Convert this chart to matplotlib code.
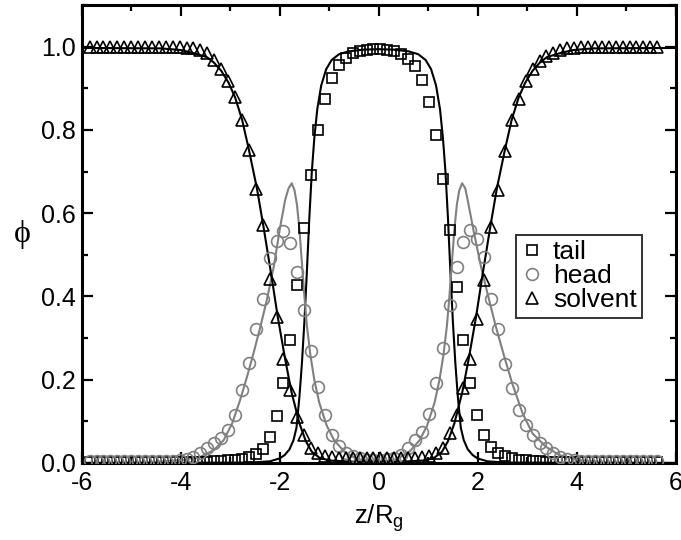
import matplotlib
matplotlib.use('Agg')
import matplotlib.pyplot as plt
import numpy as np
from matplotlib.ticker import MultipleLocator

plt.rcParams['font.family'] = ['Liberation Sans', 'DejaVu Sans']
plt.rcParams['mathtext.fontset'] = 'custom'
plt.rcParams['mathtext.rm'] = 'Liberation Sans'
plt.rcParams['mathtext.it'] = 'Liberation Sans'

#==============================================================================#
# simulation profiles (markers), sampled on the box grid
z_pts = np.linspace(-5.84, 5.63, 83)

tail_pts = [0.003, 0.003, 0.003, 0.003, 0.003, 0.003, 0.003, 0.003, 0.003, 0.003,
            0.003, 0.003, 0.003, 0.003, 0.003, 0.003, 0.003, 0.003,
            0.004, 0.005, 0.006, 0.008, 0.010, 0.014, 0.021, 0.033, 0.063, 0.113,
            0.191, 0.295, 0.427, 0.565, 0.693, 0.799, 0.875, 0.925, 0.957, 0.974,
            0.984, 0.990, 0.993, 0.995, 0.995, 0.993, 0.990, 0.982, 0.970, 0.954,
            0.920, 0.866, 0.787, 0.683, 0.559, 0.423, 0.295, 0.191, 0.115, 0.067,
            0.039, 0.025, 0.016, 0.011, 0.008, 0.006, 0.005, 0.004,
            0.003, 0.003, 0.003, 0.003, 0.003, 0.003, 0.003, 0.003, 0.003, 0.003,
            0.003, 0.003, 0.003, 0.003, 0.003, 0.003, 0.003]

head_pts = [0.004, 0.004, 0.004, 0.004, 0.004, 0.004, 0.004, 0.004, 0.004, 0.004,
            0.004, 0.004,
            0.005, 0.007, 0.010, 0.015, 0.023, 0.035, 0.047, 0.059, 0.079, 0.115,
            0.175, 0.241, 0.323, 0.395, 0.493, 0.533, 0.557, 0.528, 0.459, 0.367,
            0.269, 0.182, 0.115, 0.067, 0.041, 0.025, 0.016, 0.011, 0.008, 0.007,
            0.007, 0.009, 0.012, 0.020, 0.035, 0.055, 0.075, 0.118, 0.191, 0.277,
            0.379, 0.471, 0.531, 0.559, 0.539, 0.495, 0.395, 0.323, 0.239, 0.179,
            0.127, 0.091, 0.067, 0.047, 0.035, 0.023, 0.015, 0.010, 0.007, 0.005,
            0.004, 0.004, 0.004, 0.004, 0.004, 0.004, 0.004, 0.004, 0.004, 0.004,
            0.004]

solvent_pts = [1.0, 1.0, 1.0, 1.0, 1.0, 1.0, 1.0, 1.0, 1.0, 1.0, 1.0, 1.0, 1.0, 1.0,
               0.998, 0.996, 0.993, 0.986, 0.968, 0.946, 0.918, 0.878, 0.823, 0.751,
               0.659, 0.571, 0.443, 0.351, 0.251, 0.175, 0.111, 0.067, 0.035, 0.024,
               0.018, 0.015, 0.013, 0.012, 0.012, 0.012, 0.012, 0.012, 0.012, 0.012,
               0.012, 0.012, 0.012, 0.013, 0.015, 0.018, 0.024, 0.037, 0.071, 0.115,
               0.179, 0.251, 0.347, 0.439, 0.567, 0.655, 0.749, 0.823, 0.875, 0.918,
               0.946, 0.965, 0.978, 0.986, 0.993, 0.996, 0.998,
               1.0, 1.0, 1.0, 1.0, 1.0, 1.0, 1.0, 1.0, 1.0, 1.0, 1.0, 1.0]

# theory curves (lines)
tail_line_z = [-6.0, -2.6, -2.2, -2.0, -1.9, -1.8, -1.72, -1.66, -1.6, -1.55, -1.5,
               -1.45, -1.4, -1.35, -1.3, -1.24, -1.16, -1.06, -0.95, -0.8, -0.6, -0.3,
               0.0, 0.3, 0.6, 0.8, 0.95, 1.06, 1.16, 1.24, 1.3, 1.35, 1.4, 1.45, 1.5,
               1.55, 1.6, 1.66, 1.72, 1.8, 1.9, 2.0, 2.2, 2.6, 6.0]
tail_line = [0.0, 0.001, 0.004, 0.011, 0.019, 0.033, 0.055, 0.085, 0.16, 0.24, 0.34,
             0.46, 0.59, 0.70, 0.78, 0.85, 0.907, 0.946, 0.968, 0.982, 0.989, 0.993,
             0.994, 0.993, 0.989, 0.982, 0.968, 0.946, 0.907, 0.85, 0.78, 0.70, 0.59,
             0.46, 0.34, 0.24, 0.16, 0.085, 0.055, 0.033, 0.019, 0.011, 0.004, 0.001,
             0.0]

solvent_line_z = [-6.0, -4.4, -4.0, -3.75, -3.47, -3.33, -3.18, -3.03, -2.9, -2.76,
                  -2.63, -2.46, -2.33, -2.16, -2.04, -1.89, -1.76, -1.6, -1.47, -1.35,
                  -1.2, -1.0, -0.5, 0.43, 0.93, 1.13, 1.28, 1.4, 1.53, 1.69, 1.82,
                  1.97, 2.09, 2.26, 2.39, 2.56, 2.69, 2.83, 2.96, 3.11, 3.26, 3.4,
                  3.68, 3.93, 4.33, 6.0]
solvent_line = [0.997, 0.996, 0.992, 0.985, 0.975, 0.962, 0.942, 0.913, 0.878, 0.825,
                0.757, 0.66, 0.57, 0.445, 0.352, 0.25, 0.17, 0.095, 0.052, 0.027,
                0.013, 0.006, 0.003, 0.003, 0.006, 0.013, 0.027, 0.052, 0.095, 0.17,
                0.25, 0.352, 0.445, 0.57, 0.66, 0.757, 0.825, 0.878, 0.913, 0.942,
                0.962, 0.975, 0.985, 0.992, 0.996, 0.997]

head_line_z = [-6.0, -4.6, -4.0, -3.6, -3.33, -3.13, -2.96, -2.8, -2.66, -2.53,
               -2.39, -2.26, -2.12, -1.99, -1.89, -1.82, -1.755, -1.7, -1.65, -1.6,
               -1.55, -1.5, -1.45, -1.38, -1.3, -1.2, -1.05, -0.9, -0.7, -0.45,
               -0.2, 0.13, 0.38, 0.63, 0.83, 0.98, 1.13, 1.23, 1.31, 1.38,
               1.43, 1.48, 1.53, 1.58, 1.63, 1.686, 1.75, 1.8, 1.93, 2.07,
               2.2, 2.37, 2.54, 2.7, 2.91, 3.11, 3.38, 3.65, 4.05, 4.6, 6.0]
head_line = [0.0, 0.002, 0.007, 0.015, 0.031, 0.055, 0.095, 0.151, 0.207, 0.263,
             0.327, 0.391, 0.471, 0.567, 0.631, 0.66, 0.672, 0.655, 0.62, 0.56,
             0.48, 0.40, 0.33, 0.26, 0.20, 0.145, 0.09, 0.055, 0.028, 0.01,
             0.004, 0.004, 0.01, 0.028, 0.055, 0.09, 0.145, 0.20, 0.26, 0.33,
             0.40, 0.48, 0.56, 0.62, 0.655, 0.672, 0.66, 0.631, 0.551, 0.471,
             0.407, 0.327, 0.255, 0.191, 0.119, 0.071, 0.039, 0.019, 0.007, 0.002,
             0.0]

labels = ['tail', 'head', 'solvent']
#==============================================================================#

GRAY = '#808080'
FS = 18

fig = plt.figure(figsize=(6.81, 5.40), dpi=100)
ax = fig.add_axes([0.12, 0.1426, 0.872, 0.848])

ax.plot(tail_line_z, tail_line, color='black', lw=1.5, zorder=2)
ax.plot(head_line_z, head_line, color=GRAY, lw=1.5, zorder=2)
ax.plot(solvent_line_z, solvent_line, color='black', lw=1.5, zorder=2)

h1, = ax.plot(z_pts, tail_pts, ls='none', marker='s', ms=7, mfc='none',
              mec='black', mew=1.2, zorder=3, label=labels[0])
h2, = ax.plot(z_pts, head_pts, ls='none', marker='o', ms=8.5, mfc='none',
              mec=GRAY, mew=1.2, zorder=3, label=labels[1])
h3, = ax.plot(z_pts, solvent_pts, ls='none', marker='^', ms=8, mfc='none',
              mec='black', mew=1.2, zorder=3, label=labels[2])

ax.set_xlim(-6, 6)
ax.set_ylim(0, 1.1)
ax.xaxis.set_minor_locator(MultipleLocator(1))
ax.yaxis.set_minor_locator(MultipleLocator(0.1))
ax.set_xticks([-6, -4, -2, 0, 2, 4, 6])
ax.set_xticklabels(['-6', '-4', '-2', '0', '2', '4', '6'])
ax.set_yticks([0.0, 0.2, 0.4, 0.6, 0.8, 1.0])
ax.set_yticklabels(['0.0', '0.2', '0.4', '0.6', '0.8', '1.0'])

ax.tick_params(which='both', direction='in', top=True, right=True, labelsize=FS)
ax.tick_params(which='major', length=8, width=1.6)
ax.tick_params(which='minor', length=4, width=1.6)
ax.tick_params(axis='x', pad=6)
ax.tick_params(axis='y', pad=4.5)
for sp in ax.spines.values():
    sp.set_linewidth(2.2)

ax.set_xlabel(r'$\mathregular{z/R_g}$', fontsize=FS + 0.5, labelpad=5)
ax.set_ylabel('ϕ', fontsize=23, rotation=0, family=['Liberation Serif', 'DejaVu Serif'],
              ha='center', va='center')
ax.yaxis.set_label_coords(-0.1, 0.498)

leg = ax.legend(handles=[h1, h2, h3], loc='upper left',
                bbox_to_anchor=(0.7315, 0.498), borderaxespad=0, fontsize=19,
                frameon=True, fancybox=False, handlelength=0.8,
                handletextpad=0.4, borderpad=0.2, labelspacing=0.0)
leg.get_frame().set_edgecolor('black')
leg.get_frame().set_linewidth(1.4)

fig.savefig('out.png', dpi=100)
